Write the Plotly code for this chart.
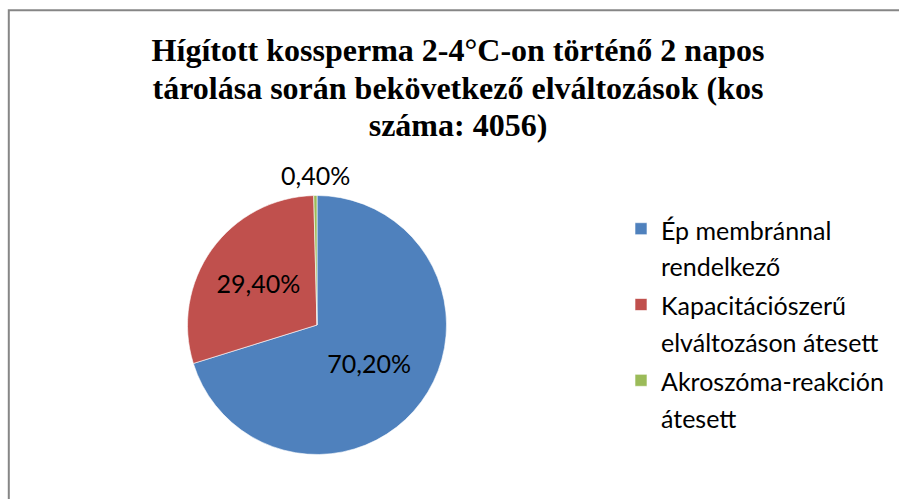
import math
import plotly.graph_objects as go

labels = ["Ép membránnal<br>rendelkező",
          "Kapacitációszerű<br>elváltozáson átesett",
          "Akroszóma-reakción<br>átesett"]
values = [70.2, 29.4, 0.4]
colors = ["#4F81BD", "#C0504D", "#9BBB59"]
title_lines = ["Hígított kossperma 2-4°C-on történő 2 napos",
               "tárolása során bekövetkező elváltozások (kos",
               "száma: 4056)"]

LEG_FS = 25
leg_labels = ["<br>".join(f"<span style='font-size:{LEG_FS}px'>{p}</span>" for p in l.split("<br>")) for l in labels]
title_text = "<br>".join(f"<span style='font-size:32px'>{t}</span>" for t in title_lines)

W, H = 899, 499
cx, cy, r = 317, 325, 129.5

fig = go.Figure(go.Pie(
    labels=leg_labels,
    values=values,
    sort=False,
    direction="clockwise",
    rotation=0,
    marker=dict(colors=colors, line=dict(color="white", width=0.6)),
    texttemplate="%{percent:.2%}",
    textposition=["inside", "inside", "none"],
    insidetextorientation="horizontal",
    textfont=dict(family="Lato", size=25, color="black"),
    hoverinfo="label+percent",
    domain=dict(x=[(cx - r) / W, (cx + r) / W], y=[(H - cy - r) / H, (H - cy + r) / H]),
))

# outside label for the small slice, placed from the data's angle
total = sum(values)
start = sum(values[:2])
theta = 2 * math.pi * (start + values[2] / 2) / total
dist = r + 21
lx = cx + dist * math.sin(theta)
ly = cy - dist * math.cos(theta)
pct = values[2] / total * 100

fig.update_layout(
    width=W, height=H,
    margin=dict(l=0, r=0, t=0, b=0),
    paper_bgcolor="white",
    separators=",.",
    title=dict(text=title_text, x=458 / W, xanchor="center", y=1 - 61 / H, yanchor="top",
               font=dict(family="Liberation Serif", size=29, color="black", weight="bold")),
    legend=dict(x=621 / W, xanchor="left", y=1 - 204 / H, yanchor="top", valign="top",
                font=dict(family="Lato", size=28, color="black"), bgcolor="rgba(0,0,0,0)"),
    annotations=[dict(text=f"{pct:.2f}%".replace(".", ","), x=lx / W, y=1 - ly / H,
                      xref="paper", yref="paper", xanchor="center", yanchor="middle",
                      showarrow=False, font=dict(family="Lato", size=25, color="black"))],
    shapes=[dict(type="rect", xref="paper", yref="paper", x0=8.8 / W, x1=1.05, y0=-0.05, y1=1 - 10.3 / H,
                 line=dict(color="#868686", width=2), fillcolor="rgba(0,0,0,0)", layer="above")],
)

fig.write_html("out.html", config={"displayModeBar": False},
               post_script="document.body.style.margin='0';document.body.style.overflow='hidden';")
